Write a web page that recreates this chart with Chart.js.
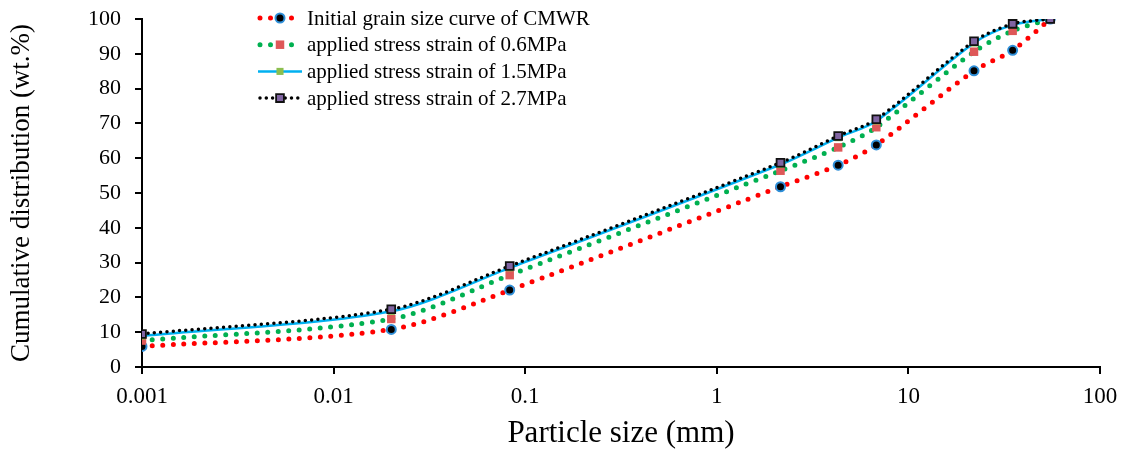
<!DOCTYPE html>
<html>
<head>
<meta charset="utf-8">
<script src="https://cdn.jsdelivr.net/npm/chart.js@4/dist/chart.umd.min.js"></script>
<style>
    * { margin: 0; padding: 0; }
    body { background: #fff; }
    #wrap { width: 1136px; height: 452px; }
</style>
</head>
<body>
<div id="wrap"><canvas id="gsd" width="1136" height="452"></canvas></div>
<script>
// particle sizes (mm) and cumulative passing (wt.%)
const sizes = [0.001, 0.02, 0.083, 2.15, 4.3, 6.8, 22, 35, 55];
const initialCurve = [5.9, 10.8, 22.1, 51.8, 58.0, 63.8, 85.1, 91.0, 100];
const stress06 = [7.6, 13.8, 26.4, 56.4, 63.1, 68.9, 90.6, 96.6, 100];
const stress15 = [8.9, 16.0, 28.5, 58.2, 65.9, 70.7, 93.1, 98.3, 100];
const stress27 = [9.5, 16.6, 29.0, 58.7, 66.4, 71.2, 93.6, 98.6, 100];

const seriesNames = [
    "Initial grain size curve of CMWR",
    "applied stress strain of 0.6MPa",
    "applied stress strain of 1.5MPa",
    "applied stress strain of 2.7MPa"
];
const xTicks = [0.001, 0.01, 0.1, 1, 10, 100];
const xTickLabels = ["0.001", "0.01", "0.1", "1", "10", "100"];

const serif = "'Liberation Serif', 'Times New Roman', serif";

function pts(vals) {
    return sizes.map((s, i) => ({ x: s, y: vals[i] }));
}

const datasets = [
    {
        label: seriesNames[0], data: pts(initialCurve),
        borderColor: "#ff0000", borderWidth: 5, borderDash: [0, 10.5], borderCapStyle: "round",
        pointStyle: "circle", pointRadius: 4.5, pointBackgroundColor: "#000", pointBorderColor: "#2f8fd8", pointBorderWidth: 2,
        order: 3
    },
    {
        label: seriesNames[1], data: pts(stress06),
        borderColor: "#00b050", borderWidth: 5, borderDash: [0, 10.5], borderCapStyle: "round",
        pointStyle: "rect", pointRadius: 6, pointBackgroundColor: "#de5858", pointBorderColor: "#de5858", pointBorderWidth: 0,
        order: 2
    },
    {
        label: seriesNames[2], data: pts(stress15),
        borderColor: "#00b0f0", borderWidth: 2.5, borderDash: [], borderCapStyle: "butt",
        pointStyle: "rect", pointRadius: 5, pointBackgroundColor: "#8cbf4f", pointBorderColor: "#8cbf4f", pointBorderWidth: 0,
        order: 1
    },
    {
        label: seriesNames[3], data: pts(stress27),
        borderColor: "#000000", borderWidth: 3.5, borderDash: [0, 6.3], borderCapStyle: "round",
        pointStyle: "rect", pointRadius: 5.5, pointBackgroundColor: "#8064a2", pointBorderColor: "#111", pointBorderWidth: 1.8,
        order: 0
    }
];

//  L E G E N D  (drawn by hand so line + marker look like the original)  //
const legendPlugin = {
    id: "seriesLegend",
    afterDraw(chart) {
        const ctx = chart.ctx;
        const x0 = 258, x1 = 302, tx = 307;
        datasets.forEach((ds, i) => {
            const y = 18 + i * 26.7;
            ctx.save();
            ctx.strokeStyle = ds.borderColor;
            ctx.lineWidth = ds.borderWidth;
            ctx.lineCap = ds.borderCapStyle;
            ctx.setLineDash(ds.borderDash);
            ctx.beginPath();
            ctx.moveTo(x0 + (ds.borderDash.length ? 2 : 0), y);
            ctx.lineTo(x1, y);
            ctx.stroke();
            ctx.setLineDash([]);

            const mx = (x0 + x1) / 2;
            ctx.fillStyle = ds.pointBackgroundColor;
            ctx.strokeStyle = ds.pointBorderColor;
            ctx.lineWidth = ds.pointBorderWidth;
            ctx.beginPath();
            if (ds.pointStyle === "circle") {
                ctx.arc(mx, y, ds.pointRadius, 0, Math.PI * 2);
            } else {
                const h = ds.pointRadius * Math.SQRT1_2;
                ctx.rect(mx - h, y - h, 2 * h, 2 * h);
            }
            ctx.fill();
            if (ds.pointBorderWidth) ctx.stroke();

            ctx.fillStyle = "#000";
            ctx.font = "21px " + serif;
            ctx.textBaseline = "middle";
            ctx.fillText(ds.label, tx, y + 1);
            ctx.restore();
        });
    }
};

const ctx = document.getElementById("gsd").getContext("2d");
new Chart(ctx, {
    type: "line",
    data: { datasets: datasets },
    options: {
        responsive: false,
        animation: false,
        layout: { padding: { top: 19, right: 36, left: 0, bottom: 0 } },
        elements: { line: { tension: 0.3, fill: false } },
        plugins: { legend: { display: false }, tooltip: { enabled: false } },
        scales: {
            x: {
                type: "logarithmic",
                min: 0.001,
                max: 100,
                afterBuildTicks: (scale) => { scale.ticks = xTicks.map(v => ({ value: v })); },
                afterFit: (scale) => {
                    scale.height = 85;
                    scale.paddingLeft = 0;
                    scale.paddingRight = 0;
                },
                ticks: {
                    color: "#000",
                    font: { family: serif, size: 23 },
                    padding: 9,
                    maxRotation: 0,
                    autoSkip: false,
                    callback: (v) => xTickLabels[xTicks.indexOf(v)]
                },
                grid: { drawOnChartArea: false, drawTicks: true, tickLength: 7, color: "#000", lineWidth: 2 },
                border: { display: true, color: "#000", width: 2 },
                title: {
                    display: true, text: "Particle size (mm)", color: "#000",
                    font: { family: serif, size: 31 }, padding: { top: 0, bottom: 0 }
                }
            },
            y: {
                min: 0,
                max: 100,
                afterFit: (scale) => {
                    scale.width = 142;
                    scale.paddingTop = 0;
                    scale.paddingBottom = 0;
                },
                ticks: {
                    stepSize: 10,
                    color: "#000",
                    font: { family: serif, size: 22 },
                    padding: 14
                },
                grid: { drawOnChartArea: false, drawTicks: true, tickLength: 7, color: "#000", lineWidth: 2 },
                border: { display: true, color: "#000", width: 2 },
                title: {
                    display: true, text: "Cumulative distribution (wt.%)", color: "#000",
                    font: { family: serif, size: 27 }, padding: { top: 6, bottom: 0 }
                }
            }
        }
    },
    plugins: [legendPlugin]
});
</script>
</body>
</html>
